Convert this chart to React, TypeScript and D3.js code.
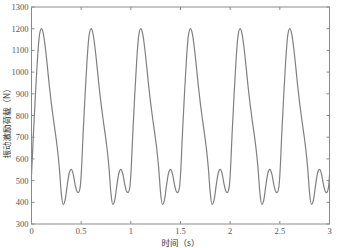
import React, { useEffect, useRef } from 'react'
import * as d3 from 'd3'

// one load cycle (0.5 s)
const cycleTime = [0, 0.02, 0.04, 0.06, 0.08, 0.1, 0.12, 0.14, 0.16, 0.18, 0.2, 0.22, 0.24, 0.26, 0.28, 0.3, 0.318, 0.34, 0.36, 0.38, 0.4, 0.42, 0.44, 0.46, 0.472, 0.49]
const cycleLoad = [525, 720, 900, 1060, 1170, 1200, 1175, 1110, 1025, 935, 855, 785, 720, 650, 560, 440, 390, 415, 480, 535, 552, 530, 480, 448, 445, 470]
const cycleCount = 6
const cycleLength = 0.5

const xTicks = [0, 0.5, 1, 1.5, 2, 2.5, 3]
const yTicks = [300, 400, 500, 600, 700, 800, 900, 1000, 1100, 1200, 1300]
const xTitle = '时间（s）'
const yTitle = '振动激励荷载（N）'

const App = () => {
    const ref = useRef<SVGSVGElement>(null)

    useEffect(() => {
        const svg = d3.select(ref.current)
        svg.selectAll('*').remove()

        const left = 31.5, right = 329.5, top = 7, bottom = 224
        const axisColor = '#8a8a8a'
        const numFont = '"Liberation Serif", "DejaVu Serif", serif'
        const cjkFont = '"Noto Sans CJK SC", sans-serif'

        const x = d3.scaleLinear().domain([0, 3]).range([left, right])
        const y = d3.scaleLinear().domain([300, 1300]).range([bottom, top])

        const points: [number, number][] = []
        for (let c = 0; c < cycleCount; c++) {
            cycleTime.forEach((t, i) => points.push([t + c * cycleLength, cycleLoad[i]]))
        }
        points.push([3, cycleLoad[0]])

        const line = d3.line<[number, number]>()
            .x(d => x(d[0]))
            .y(d => y(d[1]))
            .curve(d3.curveMonotoneX)

        svg.append('path')
            .datum(points)
            .attr('d', line)
            .attr('fill', 'none')
            .attr('stroke', '#808080')
            .attr('stroke-width', 1.2)

        // frame
        svg.append('rect')
            .attr('x', left).attr('y', top)
            .attr('width', right - left).attr('height', bottom - top)
            .attr('fill', 'none')
            .attr('stroke', axisColor)
            .attr('stroke-width', 1)

        const tl = 3
        xTicks.forEach(t => {
            svg.append('line').attr('x1', x(t)).attr('x2', x(t)).attr('y1', bottom).attr('y2', bottom - tl).attr('stroke', axisColor)
            svg.append('line').attr('x1', x(t)).attr('x2', x(t)).attr('y1', top).attr('y2', top + tl).attr('stroke', axisColor)
            svg.append('text')
                .attr('x', x(t)).attr('y', bottom + 10)
                .attr('text-anchor', 'middle')
                .attr('font-family', numFont).attr('font-size', 8.5)
                .attr('fill', '#555')
                .text(t)
        })
        yTicks.forEach(v => {
            svg.append('line').attr('x1', left).attr('x2', left + tl).attr('y1', y(v)).attr('y2', y(v)).attr('stroke', axisColor)
            svg.append('line').attr('x1', right).attr('x2', right - tl).attr('y1', y(v)).attr('y2', y(v)).attr('stroke', axisColor)
            svg.append('text')
                .attr('x', left - 3).attr('y', y(v) + 3)
                .attr('text-anchor', 'end')
                .attr('font-family', numFont).attr('font-size', 8.5)
                .attr('fill', '#555')
                .text(v)
        })

        svg.append('text')
            .attr('x', (left + right) / 2).attr('y', 246)
            .attr('text-anchor', 'middle')
            .attr('font-family', cjkFont).attr('font-size', 8.5)
            .attr('fill', '#333')
            .text(xTitle)

        svg.append('text')
            .attr('transform', `translate(10, ${(top + bottom) / 2 + 6}) rotate(-90)`)
            .attr('text-anchor', 'middle')
            .attr('font-family', cjkFont).attr('font-size', 8.5)
            .attr('fill', '#333')
            .text(yTitle)
    }, [])

    return (
        <svg ref={ref} width={338} height={248}
            style={{ position: 'absolute', left: 0, top: 0, background: '#fff' }} />
    )
}

export default App
